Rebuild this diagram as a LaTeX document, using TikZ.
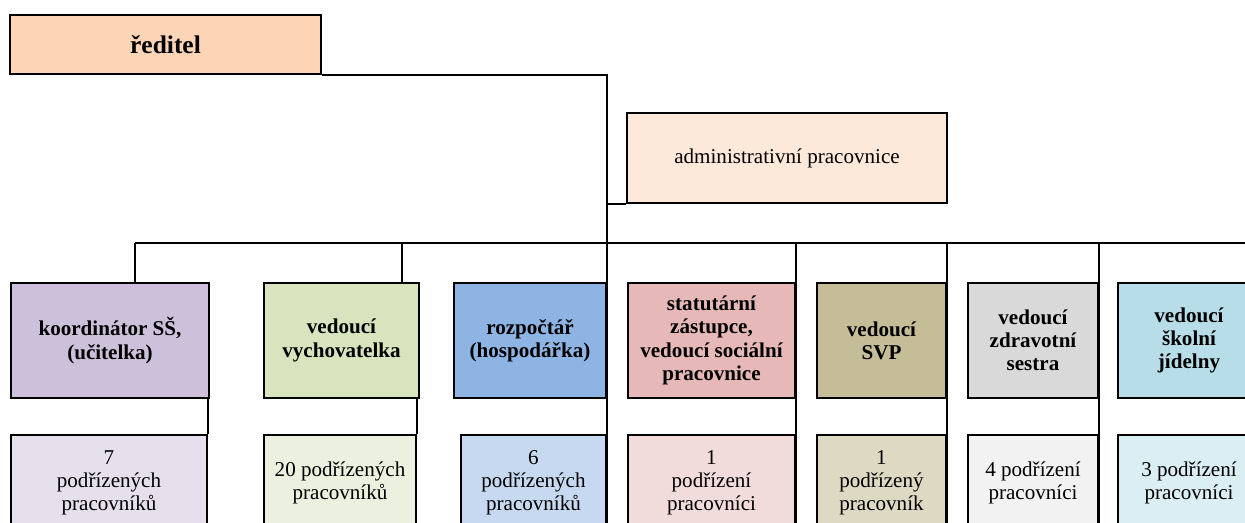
\documentclass[tikz,border=0pt]{standalone}
\usepackage{fontspec}
\setmainfont{Liberation Serif}[BoldFont={Liberation Serif Bold}]
\usepackage{tikz}
\usetikzlibrary{positioning}
\definecolor{dirc}{HTML}{FBD5B5}
\definecolor{admc}{HTML}{FDE9D9}
\definecolor{korc}{HTML}{CCC0DA}\definecolor{korsub}{HTML}{E5E0EC}
\definecolor{vycc}{HTML}{D7E4BD}\definecolor{vycsub}{HTML}{EBF1DE}
\definecolor{rozc}{HTML}{8EB4E3}\definecolor{rozsub}{HTML}{C6D9F1}
\definecolor{stac}{HTML}{E6B9B8}\definecolor{stasub}{HTML}{F2DCDB}
\definecolor{svpc}{HTML}{C4BD97}\definecolor{svpsub}{HTML}{DDD9C3}
\definecolor{zdrc}{HTML}{D9D9D9}\definecolor{zdrsub}{HTML}{F2F2F2}
\definecolor{jidc}{HTML}{B7DEE8}\definecolor{jidsub}{HTML}{DBEEF4}

\begin{document}
\begin{tikzpicture}[
  x=0.02cm, y=-0.02cm,
  font=\fontsize{12}{13.2}\selectfont,
  b/.style={draw, line width=1.6pt, align=center, inner sep=2pt},
  hd/.style={b, font=\fontsize{12}{13.2}\selectfont\bfseries, minimum height=2.3cm},
  sb/.style={b, minimum height=1.92cm},
  ln/.style={line width=1.1pt}
]
\useasboundingbox (0,0) rectangle (1245,522);
\clip (0,0) rectangle (1245,522);

\node[b, fill=dirc, minimum width=6.22cm, minimum height=1.18cm, font=\fontsize{14.5}{16}\selectfont\bfseries] (dir) at (165.5,44.5) {ředitel};
\node[b, fill=admc, minimum width=6.4cm, minimum height=1.8cm] (adm) at (787,158) {administrativní pracovnice};

% vedouci
\node[hd, fill=korc, minimum width=3.96cm] (koord) at (110,340.5) {koordinátor SŠ,\\(učitelka)};
\node[hd, fill=vycc, minimum width=3.1cm] (vych) at (341.5,340.5) {vedoucí\\vychovatelka};
\node[hd, fill=rozc, minimum width=3.04cm] (rozp) at (530,340.5) {rozpočtář\\(hospodářka)};
\node[hd, fill=stac, minimum width=3.34cm] (stat) at (711.5,340.5) {statutární\\zástupce,\\vedoucí sociální\\pracovnice};
\node[hd, fill=svpc, minimum width=2.58cm] (svp) at (881.5,340.5) {vedoucí\\SVP};
\node[hd, fill=zdrc, minimum width=2.6cm] (zdr) at (1033,340.5) {vedoucí\\zdravotní\\sestra};
\node[hd, fill=jidc, minimum width=2.84cm] (jid) at (1189,340.5) {vedoucí\\školní\\jídelny};

% podrizeni
\node[sb, fill=korsub, minimum width=3.92cm] (k7) at (109,483) {7\\podřízených\\pracovníků};
\node[sb, fill=vycsub, minimum width=3.04cm] (v20) at (340,483) {20 podřízených\\pracovníků};
\node[sb, fill=rozsub, minimum width=2.9cm] (r6) at (533.5,483) {6\\podřízených\\pracovníků};
\node[sb, fill=stasub, minimum width=3.34cm] (s1) at (711.5,483) {1\\podřízení\\pracovníci};
\node[sb, fill=svpsub, minimum width=2.58cm] (p1) at (881.5,483) {1\\podřízený\\pracovník};
\node[sb, fill=zdrsub, minimum width=2.6cm] (z4) at (1033,483) {4 podřízení\\pracovníci};
\node[sb, fill=jidsub, minimum width=2.84cm] (j3) at (1189,483) {3 podřízení\\pracovníci};

\coordinate (kb) at (135,243); \coordinate (vb) at (402,243); \coordinate (eb) at (1260,243);
\draw[ln] (dir.south east) -| (r6.south east);
\draw[ln] (adm.south west) -- (adm.south west -| r6.east);
\draw[ln] (kb) -- (eb);
\draw[ln] (kb) -- (kb |- koord.north); \draw[ln] (vb) -- (vb |- vych.north);
\draw[ln] (stat.east |- eb) -- (s1.south east); \draw[ln] (svp.east |- eb) -- (p1.south east);
\draw[ln] (zdr.east |- eb) -- (z4.south east); \draw[ln] (jid.east |- eb) -- (j3.south east);
\draw[ln] (k7.north east |- koord.south) -- (k7.north east);
\draw[ln] (v20.north east |- vych.south) -- (v20.north east);
\end{tikzpicture}
\end{document}
